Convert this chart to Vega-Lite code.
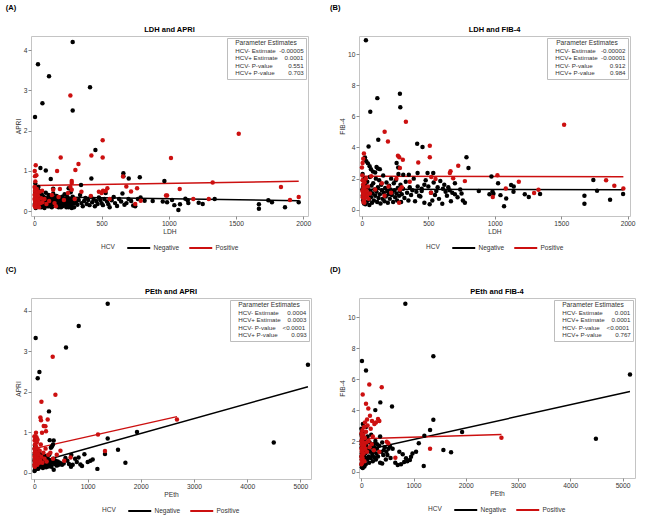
{
"$schema": "https://vega.github.io/schema/vega-lite/v6.json",
"padding": {"left": 5, "top": 3, "right": 4, "bottom": 4},
"datasets": {
"ptsA": [
{"HCV":"Negative","LDH":285,"APRI":4.2},{"HCV":"Negative","LDH":27,"APRI":3.65},{"HCV":"Negative","LDH":109,"APRI":3.35},{"HCV":"Negative","LDH":414,"APRI":3.08},{"HCV":"Negative","LDH":60,"APRI":2.68},{"HCV":"Negative","LDH":285,"APRI":2.5},{"HCV":"Negative","LDH":5,"APRI":2.34},{"HCV":"Negative","LDH":454,"APRI":1.52},{"HCV":"Negative","LDH":45,"APRI":1.07},{"HCV":"Negative","LDH":85,"APRI":1.01},{"HCV":"Negative","LDH":122,"APRI":0.8},{"HCV":"Negative","LDH":424,"APRI":0.81},{"HCV":"Negative","LDH":662,"APRI":0.94},{"HCV":"Negative","LDH":662,"APRI":0.87},{"HCV":"Negative","LDH":702,"APRI":0.81},{"HCV":"Negative","LDH":784,"APRI":0.84},{"HCV":"Negative","LDH":967,"APRI":0.75},{"HCV":"Negative","LDH":347,"APRI":0.65},{"HCV":"Negative","LDH":7,"APRI":0.69},{"HCV":"Negative","LDH":255,"APRI":0.57},{"HCV":"Negative","LDH":30,"APRI":0.6},{"HCV":"Negative","LDH":15,"APRI":0.55},{"HCV":"Negative","LDH":140,"APRI":0.56},
{"HCV":"Negative","LDH":987,"APRI":0.22},{"HCV":"Negative","LDH":1024,"APRI":0.28},{"HCV":"Negative","LDH":1041,"APRI":0.15},{"HCV":"Negative","LDH":1071,"APRI":0.03},{"HCV":"Negative","LDH":1083,"APRI":0.17},{"HCV":"Negative","LDH":1123,"APRI":0.31},{"HCV":"Negative","LDH":1140,"APRI":0.27},{"HCV":"Negative","LDH":1145,"APRI":0.2},{"HCV":"Negative","LDH":1222,"APRI":0.21},{"HCV":"Negative","LDH":1252,"APRI":0.18},{"HCV":"Negative","LDH":1341,"APRI":0.3},{"HCV":"Negative","LDH":1670,"APRI":0.17},{"HCV":"Negative","LDH":1670,"APRI":0.06},{"HCV":"Negative","LDH":1740,"APRI":0.27},{"HCV":"Negative","LDH":1767,"APRI":0.22},{"HCV":"Negative","LDH":1864,"APRI":0.1},{"HCV":"Negative","LDH":1966,"APRI":0.22},{"HCV":"Negative","LDH":880,"APRI":0.25},{"HCV":"Negative","LDH":955,"APRI":0.24},{"HCV":"Negative","LDH":820,"APRI":0.26},
{"HCV":"Negative","LDH":5,"APRI":0.45},{"HCV":"Negative","LDH":8,"APRI":0.3},{"HCV":"Negative","LDH":12,"APRI":0.2},{"HCV":"Negative","LDH":15,"APRI":0.12},{"HCV":"Negative","LDH":20,"APRI":0.38},{"HCV":"Negative","LDH":25,"APRI":0.25},{"HCV":"Negative","LDH":30,"APRI":0.15},{"HCV":"Negative","LDH":35,"APRI":0.5},{"HCV":"Negative","LDH":40,"APRI":0.32},{"HCV":"Negative","LDH":45,"APRI":0.22},{"HCV":"Negative","LDH":50,"APRI":0.1},{"HCV":"Negative","LDH":55,"APRI":0.42},{"HCV":"Negative","LDH":60,"APRI":0.28},{"HCV":"Negative","LDH":65,"APRI":0.18},{"HCV":"Negative","LDH":70,"APRI":0.35},{"HCV":"Negative","LDH":75,"APRI":0.08},{"HCV":"Negative","LDH":80,"APRI":0.25},{"HCV":"Negative","LDH":85,"APRI":0.46},{"HCV":"Negative","LDH":90,"APRI":0.15},{"HCV":"Negative","LDH":95,"APRI":0.3},{"HCV":"Negative","LDH":100,"APRI":0.22},{"HCV":"Negative","LDH":105,"APRI":0.4},{"HCV":"Negative","LDH":110,"APRI":0.12},{"HCV":"Negative","LDH":115,"APRI":0.28},{"HCV":"Negative","LDH":120,"APRI":0.35},{"HCV":"Negative","LDH":125,"APRI":0.18},{"HCV":"Negative","LDH":130,"APRI":0.1},{"HCV":"Negative","LDH":135,"APRI":0.26},{"HCV":"Negative","LDH":140,"APRI":0.44},{"HCV":"Negative","LDH":145,"APRI":0.2},{"HCV":"Negative","LDH":150,"APRI":0.32},{"HCV":"Negative","LDH":155,"APRI":0.14},{"HCV":"Negative","LDH":160,"APRI":0.24},{"HCV":"Negative","LDH":165,"APRI":0.38},{"HCV":"Negative","LDH":170,"APRI":0.18},{"HCV":"Negative","LDH":175,"APRI":0.28},{"HCV":"Negative","LDH":180,"APRI":0.1},{"HCV":"Negative","LDH":185,"APRI":0.22},{"HCV":"Negative","LDH":190,"APRI":0.34},{"HCV":"Negative","LDH":195,"APRI":0.16},{"HCV":"Negative","LDH":200,"APRI":0.27},{"HCV":"Negative","LDH":205,"APRI":0.2},{"HCV":"Negative","LDH":210,"APRI":0.12},{"HCV":"Negative","LDH":215,"APRI":0.3},{"HCV":"Negative","LDH":220,"APRI":0.24},{"HCV":"Negative","LDH":225,"APRI":0.42},{"HCV":"Negative","LDH":230,"APRI":0.18},{"HCV":"Negative","LDH":235,"APRI":0.28},{"HCV":"Negative","LDH":240,"APRI":0.15},{"HCV":"Negative","LDH":245,"APRI":0.35},{"HCV":"Negative","LDH":250,"APRI":0.22},{"HCV":"Negative","LDH":255,"APRI":0.1},{"HCV":"Negative","LDH":260,"APRI":0.3},{"HCV":"Negative","LDH":265,"APRI":0.2},{"HCV":"Negative","LDH":270,"APRI":0.47},{"HCV":"Negative","LDH":275,"APRI":0.14},{"HCV":"Negative","LDH":280,"APRI":0.26},{"HCV":"Negative","LDH":285,"APRI":0.36},{"HCV":"Negative","LDH":290,"APRI":0.2},{"HCV":"Negative","LDH":295,"APRI":0.1},{"HCV":"Negative","LDH":300,"APRI":0.3},{"HCV":"Negative","LDH":310,"APRI":0.22},{"HCV":"Negative","LDH":320,"APRI":0.16},{"HCV":"Negative","LDH":330,"APRI":0.28},{"HCV":"Negative","LDH":340,"APRI":0.4},{"HCV":"Negative","LDH":350,"APRI":0.2},{"HCV":"Negative","LDH":360,"APRI":0.12},{"HCV":"Negative","LDH":370,"APRI":0.25},{"HCV":"Negative","LDH":380,"APRI":0.33},{"HCV":"Negative","LDH":390,"APRI":0.18},{"HCV":"Negative","LDH":400,"APRI":0.28},{"HCV":"Negative","LDH":410,"APRI":0.15},{"HCV":"Negative","LDH":420,"APRI":0.36},{"HCV":"Negative","LDH":430,"APRI":0.22},{"HCV":"Negative","LDH":440,"APRI":0.3},{"HCV":"Negative","LDH":450,"APRI":0.12},{"HCV":"Negative","LDH":460,"APRI":0.25},{"HCV":"Negative","LDH":470,"APRI":0.18},{"HCV":"Negative","LDH":480,"APRI":0.34},{"HCV":"Negative","LDH":490,"APRI":0.28},{"HCV":"Negative","LDH":500,"APRI":0.2},{"HCV":"Negative","LDH":510,"APRI":0.15},{"HCV":"Negative","LDH":520,"APRI":0.3},{"HCV":"Negative","LDH":530,"APRI":0.45},{"HCV":"Negative","LDH":540,"APRI":0.24},{"HCV":"Negative","LDH":550,"APRI":0.17},{"HCV":"Negative","LDH":560,"APRI":0.1},{"HCV":"Negative","LDH":575,"APRI":0.27},{"HCV":"Negative","LDH":590,"APRI":0.35},{"HCV":"Negative","LDH":600,"APRI":0.2},{"HCV":"Negative","LDH":615,"APRI":0.13},{"HCV":"Negative","LDH":630,"APRI":0.3},{"HCV":"Negative","LDH":645,"APRI":0.24},{"HCV":"Negative","LDH":655,"APRI":0.44},{"HCV":"Negative","LDH":670,"APRI":0.16},{"HCV":"Negative","LDH":685,"APRI":0.2},{"HCV":"Negative","LDH":700,"APRI":0.3},{"HCV":"Negative","LDH":720,"APRI":0.25},{"HCV":"Negative","LDH":735,"APRI":0.14},{"HCV":"Negative","LDH":750,"APRI":0.12},{"HCV":"Negative","LDH":770,"APRI":0.3},{"HCV":"Negative","LDH":790,"APRI":0.34},
{"HCV":"Negative","LDH":3,"APRI":0.18},{"HCV":"Negative","LDH":10,"APRI":0.08},{"HCV":"Negative","LDH":18,"APRI":0.28},{"HCV":"Negative","LDH":22,"APRI":0.35},{"HCV":"Negative","LDH":28,"APRI":0.12},{"HCV":"Negative","LDH":33,"APRI":0.2},{"HCV":"Negative","LDH":38,"APRI":0.4},{"HCV":"Negative","LDH":42,"APRI":0.14},{"HCV":"Negative","LDH":48,"APRI":0.3},{"HCV":"Negative","LDH":52,"APRI":0.2},{"HCV":"Negative","LDH":58,"APRI":0.12},{"HCV":"Negative","LDH":62,"APRI":0.36},{"HCV":"Negative","LDH":68,"APRI":0.24},{"HCV":"Negative","LDH":72,"APRI":0.16},{"HCV":"Negative","LDH":78,"APRI":0.32},{"HCV":"Negative","LDH":88,"APRI":0.2},{"HCV":"Negative","LDH":98,"APRI":0.12},{"HCV":"Negative","LDH":108,"APRI":0.25},{"HCV":"Negative","LDH":118,"APRI":0.15},{"HCV":"Negative","LDH":128,"APRI":0.3},{"HCV":"Negative","LDH":138,"APRI":0.16},{"HCV":"Negative","LDH":148,"APRI":0.26},{"HCV":"Negative","LDH":158,"APRI":0.34},{"HCV":"Negative","LDH":168,"APRI":0.12},{"HCV":"Negative","LDH":178,"APRI":0.2},{"HCV":"Negative","LDH":188,"APRI":0.28},{"HCV":"Negative","LDH":198,"APRI":0.1},{"HCV":"Negative","LDH":208,"APRI":0.36},{"HCV":"Negative","LDH":218,"APRI":0.16},{"HCV":"Negative","LDH":228,"APRI":0.24},{"HCV":"Negative","LDH":238,"APRI":0.1},{"HCV":"Negative","LDH":248,"APRI":0.3},{"HCV":"Negative","LDH":258,"APRI":0.18},{"HCV":"Negative","LDH":268,"APRI":0.26},{"HCV":"Negative","LDH":278,"APRI":0.08},{"HCV":"Negative","LDH":288,"APRI":0.3},{"HCV":"Negative","LDH":298,"APRI":0.2},
{"HCV":"Positive","LDH":268,"APRI":2.87},{"HCV":"Positive","LDH":508,"APRI":1.76},{"HCV":"Positive","LDH":424,"APRI":1.38},{"HCV":"Positive","LDH":508,"APRI":1.33},{"HCV":"Positive","LDH":196,"APRI":1.33},{"HCV":"Positive","LDH":328,"APRI":1.17},{"HCV":"Positive","LDH":305,"APRI":1.02},{"HCV":"Positive","LDH":169,"APRI":1.0},{"HCV":"Positive","LDH":10,"APRI":1.14},{"HCV":"Positive","LDH":3,"APRI":1.0},{"HCV":"Positive","LDH":15,"APRI":0.89},{"HCV":"Positive","LDH":5,"APRI":0.87},{"HCV":"Positive","LDH":660,"APRI":0.86},{"HCV":"Positive","LDH":278,"APRI":0.75},{"HCV":"Positive","LDH":278,"APRI":0.7},{"HCV":"Positive","LDH":7,"APRI":0.74},{"HCV":"Positive","LDH":543,"APRI":0.57},{"HCV":"Positive","LDH":511,"APRI":0.51},{"HCV":"Positive","LDH":764,"APRI":0.57},{"HCV":"Positive","LDH":719,"APRI":0.49},{"HCV":"Positive","LDH":684,"APRI":0.61},{"HCV":"Positive","LDH":979,"APRI":0.39},{"HCV":"Positive","LDH":791,"APRI":0.26},{"HCV":"Positive","LDH":268,"APRI":0.6},{"HCV":"Positive","LDH":278,"APRI":0.53},{"HCV":"Positive","LDH":140,"APRI":0.53},{"HCV":"Positive","LDH":190,"APRI":0.55},{"HCV":"Positive","LDH":58,"APRI":0.51},{"HCV":"Positive","LDH":1016,"APRI":1.32},{"HCV":"Positive","LDH":1520,"APRI":1.92},{"HCV":"Positive","LDH":1081,"APRI":0.55},{"HCV":"Positive","LDH":1326,"APRI":0.71},{"HCV":"Positive","LDH":1834,"APRI":0.6},{"HCV":"Positive","LDH":1901,"APRI":0.28},{"HCV":"Positive","LDH":1966,"APRI":0.35},{"HCV":"Positive","LDH":987,"APRI":0.39},{"HCV":"Positive","LDH":1182,"APRI":0.3},{"HCV":"Positive","LDH":1297,"APRI":0.3},
{"HCV":"Positive","LDH":2,"APRI":0.6},{"HCV":"Positive","LDH":4,"APRI":0.5},{"HCV":"Positive","LDH":6,"APRI":0.42},{"HCV":"Positive","LDH":8,"APRI":0.35},{"HCV":"Positive","LDH":10,"APRI":0.28},{"HCV":"Positive","LDH":12,"APRI":0.22},{"HCV":"Positive","LDH":14,"APRI":0.18},{"HCV":"Positive","LDH":16,"APRI":0.12},{"HCV":"Positive","LDH":18,"APRI":0.55},{"HCV":"Positive","LDH":20,"APRI":0.45},{"HCV":"Positive","LDH":22,"APRI":0.3},{"HCV":"Positive","LDH":24,"APRI":0.2},{"HCV":"Positive","LDH":26,"APRI":0.15},{"HCV":"Positive","LDH":28,"APRI":0.38},{"HCV":"Positive","LDH":30,"APRI":0.25},{"HCV":"Positive","LDH":35,"APRI":0.1},{"HCV":"Positive","LDH":40,"APRI":0.48},{"HCV":"Positive","LDH":45,"APRI":0.2},{"HCV":"Positive","LDH":50,"APRI":0.32},{"HCV":"Positive","LDH":3,"APRI":0.15},{"HCV":"Positive","LDH":5,"APRI":0.25},{"HCV":"Positive","LDH":7,"APRI":0.2},{"HCV":"Positive","LDH":9,"APRI":0.1},{"HCV":"Positive","LDH":11,"APRI":0.38},{"HCV":"Positive","LDH":13,"APRI":0.32},{"HCV":"Positive","LDH":60,"APRI":0.22},{"HCV":"Positive","LDH":75,"APRI":0.3},{"HCV":"Positive","LDH":90,"APRI":0.18},{"HCV":"Positive","LDH":110,"APRI":0.25},{"HCV":"Positive","LDH":130,"APRI":0.4},{"HCV":"Positive","LDH":150,"APRI":0.2},{"HCV":"Positive","LDH":180,"APRI":0.35},{"HCV":"Positive","LDH":220,"APRI":0.28},{"HCV":"Positive","LDH":250,"APRI":0.45},{"HCV":"Positive","LDH":300,"APRI":0.3},{"HCV":"Positive","LDH":350,"APRI":0.48},{"HCV":"Positive","LDH":420,"APRI":0.38},{"HCV":"Positive","LDH":480,"APRI":0.48},{"HCV":"Positive","LDH":500,"APRI":0.45},{"HCV":"Positive","LDH":530,"APRI":0.5},{"HCV":"Positive","LDH":560,"APRI":0.3},{"HCV":"Positive","LDH":750,"APRI":0.18},{"HCV":"Positive","LDH":160,"APRI":0.12},{"HCV":"Positive","LDH":1,"APRI":0.3},{"HCV":"Positive","LDH":2,"APRI":0.4},{"HCV":"Positive","LDH":4,"APRI":0.12},{"HCV":"Positive","LDH":6,"APRI":0.55}
],
"linesA": [
{"HCV":"Negative","LDH":2,"APRI":0.36},{"HCV":"Negative","LDH":1966,"APRI":0.26},
{"HCV":"Positive","LDH":1,"APRI":0.64},{"HCV":"Positive","LDH":1966,"APRI":0.74}
],
"parA": [
{"Parameter":"HCV- Estimate\u00a0\u00a0-0.00005"},{"Parameter":"HCV+ Estimate\u00a0\u00a0\u00a0\u00a00.0001"},{"Parameter":"HCV- P-value\u00a0\u00a0\u00a0\u00a0\u00a0\u00a0\u00a0\u00a0\u00a00.551"},{"Parameter":"HCV+ P-value\u00a0\u00a0\u00a0\u00a0\u00a0\u00a0\u00a0\u00a00.703"}
],
"ptsB": [
{"HCV":"Negative","LDH":30,"FIB4":10.88},{"HCV":"Negative","LDH":286,"FIB4":7.45},{"HCV":"Negative","LDH":116,"FIB4":7.17},{"HCV":"Negative","LDH":289,"FIB4":6.58},{"HCV":"Negative","LDH":63,"FIB4":6.3},{"HCV":"Negative","LDH":123,"FIB4":4.5},{"HCV":"Negative","LDH":50,"FIB4":4.07},{"HCV":"Negative","LDH":416,"FIB4":4.24},{"HCV":"Negative","LDH":456,"FIB4":4.03},{"HCV":"Negative","LDH":261,"FIB4":3.0},{"HCV":"Negative","LDH":273,"FIB4":2.72},{"HCV":"Negative","LDH":23,"FIB4":3.36},{"HCV":"Negative","LDH":33,"FIB4":3.12},{"HCV":"Negative","LDH":45,"FIB4":2.98},{"HCV":"Negative","LDH":58,"FIB4":2.8},{"HCV":"Negative","LDH":68,"FIB4":2.6},{"HCV":"Negative","LDH":83,"FIB4":2.45},{"HCV":"Negative","LDH":100,"FIB4":2.4},{"HCV":"Negative","LDH":135,"FIB4":2.61},{"HCV":"Negative","LDH":787,"FIB4":3.38},{"HCV":"Negative","LDH":802,"FIB4":2.68},{"HCV":"Negative","LDH":494,"FIB4":2.36},{"HCV":"Negative","LDH":537,"FIB4":2.36},{"HCV":"Negative","LDH":419,"FIB4":2.36},{"HCV":"Negative","LDH":353,"FIB4":2.25},{"HCV":"Negative","LDH":311,"FIB4":2.25},{"HCV":"Negative","LDH":975,"FIB4":2.14},{"HCV":"Negative","LDH":18,"FIB4":3.3},{"HCV":"Negative","LDH":110,"FIB4":2.75},{"HCV":"Negative","LDH":120,"FIB4":2.65},
{"HCV":"Negative","LDH":1025,"FIB4":1.71},{"HCV":"Negative","LDH":983,"FIB4":1.18},{"HCV":"Negative","LDH":990,"FIB4":1.03},{"HCV":"Negative","LDH":1043,"FIB4":0.94},{"HCV":"Negative","LDH":1086,"FIB4":0.73},{"HCV":"Negative","LDH":1070,"FIB4":0.22},{"HCV":"Negative","LDH":1123,"FIB4":1.59},{"HCV":"Negative","LDH":1143,"FIB4":1.5},{"HCV":"Negative","LDH":1141,"FIB4":1.16},{"HCV":"Negative","LDH":1226,"FIB4":0.99},{"HCV":"Negative","LDH":1256,"FIB4":0.82},{"HCV":"Negative","LDH":1341,"FIB4":1.01},{"HCV":"Negative","LDH":1675,"FIB4":0.9},{"HCV":"Negative","LDH":1675,"FIB4":0.39},{"HCV":"Negative","LDH":1742,"FIB4":1.91},{"HCV":"Negative","LDH":1770,"FIB4":1.22},{"HCV":"Negative","LDH":1868,"FIB4":0.64},{"HCV":"Negative","LDH":1966,"FIB4":1.01},{"HCV":"Negative","LDH":880,"FIB4":1.2},{"HCV":"Negative","LDH":775,"FIB4":0.45},{"HCV":"Negative","LDH":960,"FIB4":1.0},
{"HCV":"Negative","LDH":590,"FIB4":1.85},{"HCV":"Negative","LDH":620,"FIB4":1.6},{"HCV":"Negative","LDH":700,"FIB4":1.7},{"HCV":"Negative","LDH":650,"FIB4":1.45},{"HCV":"Negative","LDH":560,"FIB4":1.2},{"HCV":"Negative","LDH":605,"FIB4":0.38},{"HCV":"Negative","LDH":510,"FIB4":0.35},{"HCV":"Negative","LDH":470,"FIB4":0.45},{"HCV":"Negative","LDH":530,"FIB4":0.6},{"HCV":"Negative","LDH":720,"FIB4":0.8},{"HCV":"Negative","LDH":760,"FIB4":0.6},{"HCV":"Negative","LDH":680,"FIB4":1.1},{"HCV":"Negative","LDH":740,"FIB4":1.3},{"HCV":"Negative","LDH":640,"FIB4":0.9},{"HCV":"Negative","LDH":580,"FIB4":0.7},{"HCV":"Negative","LDH":550,"FIB4":0.95},{"HCV":"Negative","LDH":610,"FIB4":1.35},{"HCV":"Negative","LDH":660,"FIB4":1.25},{"HCV":"Negative","LDH":700,"FIB4":1.0},{"HCV":"Negative","LDH":500,"FIB4":1.5},{"HCV":"Negative","LDH":480,"FIB4":1.9},{"HCV":"Negative","LDH":450,"FIB4":1.2},{"HCV":"Negative","LDH":430,"FIB4":0.9},{"HCV":"Negative","LDH":470,"FIB4":1.6},{"HCV":"Negative","LDH":520,"FIB4":1.1},{"HCV":"Negative","LDH":540,"FIB4":1.75},{"HCV":"Negative","LDH":570,"FIB4":1.45},{"HCV":"Negative","LDH":630,"FIB4":1.15},{"HCV":"Negative","LDH":670,"FIB4":0.55},{"HCV":"Negative","LDH":750,"FIB4":1.05},
{"HCV":"Negative","LDH":5,"FIB4":2.3},{"HCV":"Negative","LDH":8,"FIB4":1.9},{"HCV":"Negative","LDH":10,"FIB4":1.5},{"HCV":"Negative","LDH":12,"FIB4":1.1},{"HCV":"Negative","LDH":14,"FIB4":0.7},{"HCV":"Negative","LDH":16,"FIB4":0.4},{"HCV":"Negative","LDH":20,"FIB4":2.0},{"HCV":"Negative","LDH":24,"FIB4":1.6},{"HCV":"Negative","LDH":28,"FIB4":1.25},{"HCV":"Negative","LDH":32,"FIB4":0.9},{"HCV":"Negative","LDH":36,"FIB4":0.5},{"HCV":"Negative","LDH":40,"FIB4":1.8},{"HCV":"Negative","LDH":44,"FIB4":1.4},{"HCV":"Negative","LDH":48,"FIB4":1.0},{"HCV":"Negative","LDH":52,"FIB4":0.65},{"HCV":"Negative","LDH":56,"FIB4":0.3},{"HCV":"Negative","LDH":60,"FIB4":2.1},{"HCV":"Negative","LDH":64,"FIB4":1.2},{"HCV":"Negative","LDH":68,"FIB4":0.8},{"HCV":"Negative","LDH":72,"FIB4":1.55},{"HCV":"Negative","LDH":76,"FIB4":0.45},{"HCV":"Negative","LDH":80,"FIB4":1.05},{"HCV":"Negative","LDH":85,"FIB4":1.7},{"HCV":"Negative","LDH":90,"FIB4":0.6},{"HCV":"Negative","LDH":95,"FIB4":1.3},{"HCV":"Negative","LDH":100,"FIB4":0.9},{"HCV":"Negative","LDH":105,"FIB4":2.0},{"HCV":"Negative","LDH":110,"FIB4":1.15},{"HCV":"Negative","LDH":115,"FIB4":0.5},{"HCV":"Negative","LDH":120,"FIB4":1.45},{"HCV":"Negative","LDH":125,"FIB4":0.75},{"HCV":"Negative","LDH":130,"FIB4":1.9},{"HCV":"Negative","LDH":135,"FIB4":1.0},{"HCV":"Negative","LDH":140,"FIB4":0.4},{"HCV":"Negative","LDH":145,"FIB4":1.6},{"HCV":"Negative","LDH":150,"FIB4":1.25},{"HCV":"Negative","LDH":155,"FIB4":0.7},{"HCV":"Negative","LDH":160,"FIB4":2.2},{"HCV":"Negative","LDH":165,"FIB4":1.1},{"HCV":"Negative","LDH":170,"FIB4":0.55},{"HCV":"Negative","LDH":175,"FIB4":1.4},{"HCV":"Negative","LDH":180,"FIB4":0.85},{"HCV":"Negative","LDH":185,"FIB4":1.75},{"HCV":"Negative","LDH":190,"FIB4":1.2},{"HCV":"Negative","LDH":195,"FIB4":0.45},{"HCV":"Negative","LDH":200,"FIB4":1.0},{"HCV":"Negative","LDH":205,"FIB4":1.55},{"HCV":"Negative","LDH":210,"FIB4":0.7},{"HCV":"Negative","LDH":215,"FIB4":1.3},{"HCV":"Negative","LDH":220,"FIB4":2.0},{"HCV":"Negative","LDH":225,"FIB4":0.95},{"HCV":"Negative","LDH":230,"FIB4":1.15},{"HCV":"Negative","LDH":235,"FIB4":0.5},{"HCV":"Negative","LDH":240,"FIB4":1.7},{"HCV":"Negative","LDH":245,"FIB4":1.25},{"HCV":"Negative","LDH":250,"FIB4":0.8},{"HCV":"Negative","LDH":255,"FIB4":1.9},{"HCV":"Negative","LDH":260,"FIB4":1.05},{"HCV":"Negative","LDH":265,"FIB4":0.6},{"HCV":"Negative","LDH":270,"FIB4":1.4},{"HCV":"Negative","LDH":275,"FIB4":2.3},{"HCV":"Negative","LDH":280,"FIB4":0.9},{"HCV":"Negative","LDH":285,"FIB4":1.2},{"HCV":"Negative","LDH":290,"FIB4":1.6},{"HCV":"Negative","LDH":295,"FIB4":0.5},{"HCV":"Negative","LDH":300,"FIB4":1.0},{"HCV":"Negative","LDH":310,"FIB4":1.35},{"HCV":"Negative","LDH":320,"FIB4":0.75},{"HCV":"Negative","LDH":330,"FIB4":1.8},{"HCV":"Negative","LDH":340,"FIB4":1.1},{"HCV":"Negative","LDH":350,"FIB4":0.6},{"HCV":"Negative","LDH":360,"FIB4":1.45},{"HCV":"Negative","LDH":370,"FIB4":0.95},{"HCV":"Negative","LDH":380,"FIB4":1.25},{"HCV":"Negative","LDH":390,"FIB4":2.0},{"HCV":"Negative","LDH":400,"FIB4":0.55},{"HCV":"Negative","LDH":410,"FIB4":1.15},{"HCV":"Negative","LDH":420,"FIB4":1.5},{"HCV":"Negative","LDH":440,"FIB4":0.85},{"HCV":"Negative","LDH":450,"FIB4":1.35},{"HCV":"Negative","LDH":3,"FIB4":1.3},{"HCV":"Negative","LDH":6,"FIB4":0.9},{"HCV":"Negative","LDH":9,"FIB4":0.6},{"HCV":"Negative","LDH":18,"FIB4":1.2},{"HCV":"Negative","LDH":26,"FIB4":0.35},
{"HCV":"Positive","LDH":331,"FIB4":5.65},{"HCV":"Positive","LDH":171,"FIB4":5.01},{"HCV":"Positive","LDH":196,"FIB4":4.39},{"HCV":"Positive","LDH":511,"FIB4":4.11},{"HCV":"Positive","LDH":511,"FIB4":3.38},{"HCV":"Positive","LDH":424,"FIB4":3.04},{"HCV":"Positive","LDH":271,"FIB4":3.47},{"HCV":"Positive","LDH":281,"FIB4":3.38},{"HCV":"Positive","LDH":308,"FIB4":3.21},{"HCV":"Positive","LDH":286,"FIB4":2.68},{"HCV":"Positive","LDH":15,"FIB4":3.62},{"HCV":"Positive","LDH":10,"FIB4":3.28},{"HCV":"Positive","LDH":5,"FIB4":3.0},{"HCV":"Positive","LDH":0,"FIB4":2.72},{"HCV":"Positive","LDH":725,"FIB4":2.83},{"HCV":"Positive","LDH":667,"FIB4":2.47},{"HCV":"Positive","LDH":662,"FIB4":2.36},{"HCV":"Positive","LDH":775,"FIB4":1.84},{"HCV":"Positive","LDH":687,"FIB4":2.02},{"HCV":"Positive","LDH":554,"FIB4":1.97},{"HCV":"Positive","LDH":522,"FIB4":2.1},{"HCV":"Positive","LDH":1020,"FIB4":2.21},{"HCV":"Positive","LDH":985,"FIB4":0.82},{"HCV":"Positive","LDH":1083,"FIB4":1.37},{"HCV":"Positive","LDH":1181,"FIB4":1.8},{"HCV":"Positive","LDH":1296,"FIB4":1.07},{"HCV":"Positive","LDH":1329,"FIB4":1.29},{"HCV":"Positive","LDH":1522,"FIB4":5.46},{"HCV":"Positive","LDH":1838,"FIB4":1.89},{"HCV":"Positive","LDH":1900,"FIB4":1.54},{"HCV":"Positive","LDH":1968,"FIB4":1.37},
{"HCV":"Positive","LDH":3,"FIB4":2.2},{"HCV":"Positive","LDH":5,"FIB4":1.9},{"HCV":"Positive","LDH":8,"FIB4":1.6},{"HCV":"Positive","LDH":10,"FIB4":1.3},{"HCV":"Positive","LDH":12,"FIB4":1.05},{"HCV":"Positive","LDH":14,"FIB4":0.9},{"HCV":"Positive","LDH":16,"FIB4":0.6},{"HCV":"Positive","LDH":18,"FIB4":0.45},{"HCV":"Positive","LDH":20,"FIB4":1.75},{"HCV":"Positive","LDH":22,"FIB4":1.45},{"HCV":"Positive","LDH":25,"FIB4":1.1},{"HCV":"Positive","LDH":28,"FIB4":0.8},{"HCV":"Positive","LDH":30,"FIB4":2.0},{"HCV":"Positive","LDH":35,"FIB4":1.2},{"HCV":"Positive","LDH":40,"FIB4":0.95},{"HCV":"Positive","LDH":45,"FIB4":1.5},{"HCV":"Positive","LDH":50,"FIB4":0.7},{"HCV":"Positive","LDH":60,"FIB4":1.05},{"HCV":"Positive","LDH":70,"FIB4":2.15},{"HCV":"Positive","LDH":4,"FIB4":1.2},{"HCV":"Positive","LDH":6,"FIB4":0.8},{"HCV":"Positive","LDH":9,"FIB4":1.0},{"HCV":"Positive","LDH":11,"FIB4":0.5},{"HCV":"Positive","LDH":13,"FIB4":1.4},{"HCV":"Positive","LDH":150,"FIB4":1.7},{"HCV":"Positive","LDH":200,"FIB4":1.5},{"HCV":"Positive","LDH":280,"FIB4":0.45},{"HCV":"Positive","LDH":285,"FIB4":1.3},{"HCV":"Positive","LDH":220,"FIB4":1.1},{"HCV":"Positive","LDH":100,"FIB4":1.3},{"HCV":"Positive","LDH":260,"FIB4":2.0},{"HCV":"Positive","LDH":520,"FIB4":1.1},{"HCV":"Positive","LDH":300,"FIB4":1.45},{"HCV":"Positive","LDH":360,"FIB4":1.8},{"HCV":"Positive","LDH":170,"FIB4":0.9}
],
"linesB": [
{"HCV":"Negative","LDH":2,"FIB4":1.31},{"HCV":"Negative","LDH":1966,"FIB4":1.29},
{"HCV":"Positive","LDH":0,"FIB4":2.15},{"HCV":"Positive","LDH":1968,"FIB4":2.12}
],
"parB": [
{"Parameter":"HCV- Estimate\u00a0\u00a0\u00a0-0.00002"},{"Parameter":"HCV+ Estimate\u00a0\u00a0-0.00001"},{"Parameter":"HCV- P-value\u00a0\u00a0\u00a0\u00a0\u00a0\u00a0\u00a0\u00a0\u00a0\u00a00.912"},{"Parameter":"HCV+ P-value\u00a0\u00a0\u00a0\u00a0\u00a0\u00a0\u00a0\u00a0\u00a00.984"}
],
"ptsC": [
{"HCV":"Negative","PEth":1378,"APRI":4.18},{"HCV":"Negative","PEth":833,"APRI":3.63},{"HCV":"Negative","PEth":24,"APRI":3.33},{"HCV":"Negative","PEth":594,"APRI":3.1},{"HCV":"Negative","PEth":94,"APRI":2.49},{"HCV":"Negative","PEth":62,"APRI":2.34},{"HCV":"Negative","PEth":274,"APRI":1.52},{"HCV":"Negative","PEth":288,"APRI":0.81},{"HCV":"Negative","PEth":363,"APRI":0.8},{"HCV":"Negative","PEth":1378,"APRI":0.85},{"HCV":"Negative","PEth":1327,"APRI":0.47},{"HCV":"Negative","PEth":1572,"APRI":0.57},{"HCV":"Negative","PEth":1711,"APRI":0.25},{"HCV":"Negative","PEth":1929,"APRI":1.01},{"HCV":"Negative","PEth":1184,"APRI":0.1},{"HCV":"Negative","PEth":940,"APRI":0.46},{"HCV":"Negative","PEth":1053,"APRI":0.3},{"HCV":"Negative","PEth":1002,"APRI":0.27},{"HCV":"Negative","PEth":1096,"APRI":0.33},{"HCV":"Negative","PEth":865,"APRI":0.21},{"HCV":"Negative","PEth":895,"APRI":0.17},{"HCV":"Negative","PEth":797,"APRI":0.27},{"HCV":"Negative","PEth":765,"APRI":0.35},{"HCV":"Negative","PEth":830,"APRI":0.38},{"HCV":"Negative","PEth":688,"APRI":0.15},{"HCV":"Negative","PEth":583,"APRI":0.37},{"HCV":"Negative","PEth":551,"APRI":0.23},{"HCV":"Negative","PEth":694,"APRI":0.44},{"HCV":"Negative","PEth":395,"APRI":0.24},{"HCV":"Negative","PEth":457,"APRI":0.2},{"HCV":"Negative","PEth":363,"APRI":0.08},{"HCV":"Negative","PEth":5143,"APRI":2.67},{"HCV":"Negative","PEth":4500,"APRI":0.75},
{"HCV":"Negative","PEth":2,"APRI":0.05},{"HCV":"Negative","PEth":4,"APRI":0.2},{"HCV":"Negative","PEth":6,"APRI":0.35},{"HCV":"Negative","PEth":8,"APRI":0.5},{"HCV":"Negative","PEth":10,"APRI":0.68},{"HCV":"Negative","PEth":12,"APRI":0.12},{"HCV":"Negative","PEth":15,"APRI":0.28},{"HCV":"Negative","PEth":18,"APRI":0.42},{"HCV":"Negative","PEth":20,"APRI":0.6},{"HCV":"Negative","PEth":25,"APRI":0.18},{"HCV":"Negative","PEth":30,"APRI":0.3},{"HCV":"Negative","PEth":35,"APRI":0.45},{"HCV":"Negative","PEth":40,"APRI":0.1},{"HCV":"Negative","PEth":45,"APRI":0.25},{"HCV":"Negative","PEth":50,"APRI":0.38},{"HCV":"Negative","PEth":55,"APRI":0.55},{"HCV":"Negative","PEth":60,"APRI":0.15},{"HCV":"Negative","PEth":65,"APRI":0.3},{"HCV":"Negative","PEth":70,"APRI":0.22},{"HCV":"Negative","PEth":75,"APRI":0.42},{"HCV":"Negative","PEth":80,"APRI":0.12},{"HCV":"Negative","PEth":85,"APRI":0.33},{"HCV":"Negative","PEth":90,"APRI":0.5},{"HCV":"Negative","PEth":95,"APRI":0.2},{"HCV":"Negative","PEth":100,"APRI":0.28},{"HCV":"Negative","PEth":110,"APRI":0.4},{"HCV":"Negative","PEth":120,"APRI":0.15},{"HCV":"Negative","PEth":130,"APRI":0.32},{"HCV":"Negative","PEth":140,"APRI":0.22},{"HCV":"Negative","PEth":150,"APRI":0.45},{"HCV":"Negative","PEth":160,"APRI":0.12},{"HCV":"Negative","PEth":170,"APRI":0.3},{"HCV":"Negative","PEth":180,"APRI":0.38},{"HCV":"Negative","PEth":190,"APRI":0.18},{"HCV":"Negative","PEth":200,"APRI":0.26},{"HCV":"Negative","PEth":210,"APRI":0.42},{"HCV":"Negative","PEth":220,"APRI":0.14},{"HCV":"Negative","PEth":230,"APRI":0.32},{"HCV":"Negative","PEth":240,"APRI":0.22},{"HCV":"Negative","PEth":250,"APRI":0.36},{"HCV":"Negative","PEth":260,"APRI":0.16},{"HCV":"Negative","PEth":270,"APRI":0.28},{"HCV":"Negative","PEth":280,"APRI":0.45},{"HCV":"Negative","PEth":290,"APRI":0.2},{"HCV":"Negative","PEth":300,"APRI":0.3},{"HCV":"Negative","PEth":310,"APRI":0.62},{"HCV":"Negative","PEth":320,"APRI":0.15},{"HCV":"Negative","PEth":330,"APRI":0.65},{"HCV":"Negative","PEth":340,"APRI":0.25},{"HCV":"Negative","PEth":350,"APRI":0.7},{"HCV":"Negative","PEth":360,"APRI":0.35},{"HCV":"Negative","PEth":380,"APRI":0.22},{"HCV":"Negative","PEth":400,"APRI":0.3},{"HCV":"Negative","PEth":420,"APRI":0.18},{"HCV":"Negative","PEth":440,"APRI":0.28},{"HCV":"Negative","PEth":480,"APRI":0.25},{"HCV":"Negative","PEth":520,"APRI":0.2},{"HCV":"Negative","PEth":620,"APRI":0.3},{"HCV":"Negative","PEth":650,"APRI":0.22},{"HCV":"Negative","PEth":720,"APRI":0.2},{"HCV":"Negative","PEth":1,"APRI":0.3},{"HCV":"Negative","PEth":3,"APRI":0.45},{"HCV":"Negative","PEth":5,"APRI":0.6},{"HCV":"Negative","PEth":7,"APRI":0.15},{"HCV":"Negative","PEth":9,"APRI":0.25},{"HCV":"Negative","PEth":14,"APRI":0.08},{"HCV":"Negative","PEth":22,"APRI":0.5},{"HCV":"Negative","PEth":28,"APRI":0.22},{"HCV":"Negative","PEth":38,"APRI":0.35},{"HCV":"Negative","PEth":48,"APRI":0.18},{"HCV":"Negative","PEth":58,"APRI":0.45},{"HCV":"Negative","PEth":68,"APRI":0.1},{"HCV":"Negative","PEth":78,"APRI":0.25},
{"HCV":"Positive","PEth":344,"APRI":2.87},{"HCV":"Positive","PEth":395,"APRI":1.93},{"HCV":"Positive","PEth":132,"APRI":1.76},{"HCV":"Positive","PEth":113,"APRI":1.37},{"HCV":"Positive","PEth":124,"APRI":1.3},{"HCV":"Positive","PEth":250,"APRI":1.32},{"HCV":"Positive","PEth":175,"APRI":1.16},{"HCV":"Positive","PEth":207,"APRI":1.15},{"HCV":"Positive","PEth":30,"APRI":0.99},{"HCV":"Positive","PEth":143,"APRI":0.99},{"HCV":"Positive","PEth":218,"APRI":1.03},{"HCV":"Positive","PEth":0,"APRI":0.9},{"HCV":"Positive","PEth":1196,"APRI":0.95},{"HCV":"Positive","PEth":1327,"APRI":0.54},{"HCV":"Positive","PEth":2680,"APRI":1.32},{"HCV":"Positive","PEth":490,"APRI":0.55},{"HCV":"Positive","PEth":560,"APRI":0.3},{"HCV":"Positive","PEth":680,"APRI":0.38},
{"HCV":"Positive","PEth":1,"APRI":0.2},{"HCV":"Positive","PEth":2,"APRI":0.4},{"HCV":"Positive","PEth":3,"APRI":0.6},{"HCV":"Positive","PEth":4,"APRI":0.8},{"HCV":"Positive","PEth":5,"APRI":0.3},{"HCV":"Positive","PEth":6,"APRI":0.5},{"HCV":"Positive","PEth":8,"APRI":0.15},{"HCV":"Positive","PEth":10,"APRI":0.7},{"HCV":"Positive","PEth":12,"APRI":0.35},{"HCV":"Positive","PEth":14,"APRI":0.55},{"HCV":"Positive","PEth":16,"APRI":0.25},{"HCV":"Positive","PEth":18,"APRI":0.45},{"HCV":"Positive","PEth":20,"APRI":0.85},{"HCV":"Positive","PEth":25,"APRI":0.2},{"HCV":"Positive","PEth":30,"APRI":0.65},{"HCV":"Positive","PEth":35,"APRI":0.4},{"HCV":"Positive","PEth":40,"APRI":0.3},{"HCV":"Positive","PEth":45,"APRI":0.75},{"HCV":"Positive","PEth":50,"APRI":0.5},{"HCV":"Positive","PEth":55,"APRI":0.2},{"HCV":"Positive","PEth":60,"APRI":0.6},{"HCV":"Positive","PEth":70,"APRI":0.35},{"HCV":"Positive","PEth":80,"APRI":0.45},{"HCV":"Positive","PEth":90,"APRI":0.25},{"HCV":"Positive","PEth":100,"APRI":0.55},{"HCV":"Positive","PEth":110,"APRI":0.3},{"HCV":"Positive","PEth":120,"APRI":0.7},{"HCV":"Positive","PEth":130,"APRI":0.4},{"HCV":"Positive","PEth":150,"APRI":0.25},{"HCV":"Positive","PEth":170,"APRI":0.5},{"HCV":"Positive","PEth":190,"APRI":0.35},{"HCV":"Positive","PEth":210,"APRI":0.6},{"HCV":"Positive","PEth":230,"APRI":0.28},{"HCV":"Positive","PEth":260,"APRI":0.45},{"HCV":"Positive","PEth":300,"APRI":0.5},{"HCV":"Positive","PEth":350,"APRI":0.35},{"HCV":"Positive","PEth":420,"APRI":0.45},{"HCV":"Positive","PEth":15,"APRI":0.9},{"HCV":"Positive","PEth":40,"APRI":0.88},{"HCV":"Positive","PEth":60,"APRI":0.82}
],
"linesC": [
{"HCV":"Negative","PEth":0,"APRI":0.24},{"HCV":"Negative","PEth":5143,"APRI":2.13},
{"HCV":"Positive","PEth":0,"APRI":0.6},{"HCV":"Positive","PEth":2680,"APRI":1.39}
],
"parC": [
{"Parameter":"HCV- Estimate\u00a0\u00a0\u00a0\u00a0\u00a00.0004"},{"Parameter":"HCV+ Estimate\u00a0\u00a0\u00a0\u00a00.0003"},{"Parameter":"HCV- P-value\u00a0\u00a0\u00a0\u00a0<0.0001"},{"Parameter":"HCV+ P-value\u00a0\u00a0\u00a0\u00a0\u00a0\u00a0\u00a0\u00a00.093"}
],
"ptsD": [
{"HCV":"Negative","PEth":843,"FIB4":10.88},{"HCV":"Negative","PEth":1379,"FIB4":7.48},{"HCV":"Negative","PEth":13,"FIB4":7.18},{"HCV":"Negative","PEth":90,"FIB4":6.56},{"HCV":"Negative","PEth":364,"FIB4":4.5},{"HCV":"Negative","PEth":588,"FIB4":4.24},{"HCV":"Negative","PEth":268,"FIB4":4.0},{"HCV":"Negative","PEth":1379,"FIB4":3.37},{"HCV":"Negative","PEth":1316,"FIB4":2.71},{"HCV":"Negative","PEth":1929,"FIB4":2.58},{"HCV":"Negative","PEth":1207,"FIB4":2.34},{"HCV":"Negative","PEth":1571,"FIB4":1.42},{"HCV":"Negative","PEth":1718,"FIB4":1.27},{"HCV":"Negative","PEth":1195,"FIB4":0.39},{"HCV":"Negative","PEth":728,"FIB4":1.31},{"HCV":"Negative","PEth":793,"FIB4":1.14},{"HCV":"Negative","PEth":856,"FIB4":0.88},{"HCV":"Negative","PEth":5142,"FIB4":6.3},{"HCV":"Negative","PEth":4490,"FIB4":2.15},{"HCV":"Negative","PEth":1100,"FIB4":1.85},{"HCV":"Negative","PEth":1048,"FIB4":1.31},{"HCV":"Negative","PEth":952,"FIB4":0.99},{"HCV":"Negative","PEth":930,"FIB4":0.78},{"HCV":"Negative","PEth":697,"FIB4":0.45},{"HCV":"Negative","PEth":880,"FIB4":0.7},{"HCV":"Negative","PEth":980,"FIB4":1.2},{"HCV":"Negative","PEth":820,"FIB4":0.65},{"HCV":"Negative","PEth":760,"FIB4":0.5},{"HCV":"Negative","PEth":650,"FIB4":0.6},{"HCV":"Negative","PEth":600,"FIB4":1.5},{"HCV":"Negative","PEth":550,"FIB4":1.65},{"HCV":"Negative","PEth":500,"FIB4":1.1},{"HCV":"Negative","PEth":470,"FIB4":0.8},{"HCV":"Negative","PEth":430,"FIB4":1.4},{"HCV":"Negative","PEth":400,"FIB4":0.55},{"HCV":"Negative","PEth":360,"FIB4":2.3},{"HCV":"Negative","PEth":300,"FIB4":1.8},
{"HCV":"Negative","PEth":2,"FIB4":2.8},{"HCV":"Negative","PEth":4,"FIB4":2.4},{"HCV":"Negative","PEth":6,"FIB4":2.0},{"HCV":"Negative","PEth":8,"FIB4":1.6},{"HCV":"Negative","PEth":10,"FIB4":1.2},{"HCV":"Negative","PEth":12,"FIB4":0.8},{"HCV":"Negative","PEth":14,"FIB4":0.4},{"HCV":"Negative","PEth":16,"FIB4":2.6},{"HCV":"Negative","PEth":18,"FIB4":2.2},{"HCV":"Negative","PEth":20,"FIB4":1.8},{"HCV":"Negative","PEth":22,"FIB4":1.4},{"HCV":"Negative","PEth":24,"FIB4":1.0},{"HCV":"Negative","PEth":26,"FIB4":0.6},{"HCV":"Negative","PEth":28,"FIB4":0.25},{"HCV":"Negative","PEth":30,"FIB4":3.1},{"HCV":"Negative","PEth":35,"FIB4":2.5},{"HCV":"Negative","PEth":40,"FIB4":1.9},{"HCV":"Negative","PEth":45,"FIB4":1.5},{"HCV":"Negative","PEth":50,"FIB4":1.1},{"HCV":"Negative","PEth":55,"FIB4":0.7},{"HCV":"Negative","PEth":60,"FIB4":0.35},{"HCV":"Negative","PEth":65,"FIB4":2.1},{"HCV":"Negative","PEth":70,"FIB4":1.6},{"HCV":"Negative","PEth":75,"FIB4":1.2},{"HCV":"Negative","PEth":80,"FIB4":0.9},{"HCV":"Negative","PEth":85,"FIB4":0.5},{"HCV":"Negative","PEth":90,"FIB4":2.9},{"HCV":"Negative","PEth":95,"FIB4":1.7},{"HCV":"Negative","PEth":100,"FIB4":1.3},{"HCV":"Negative","PEth":110,"FIB4":0.8},{"HCV":"Negative","PEth":120,"FIB4":2.3},{"HCV":"Negative","PEth":130,"FIB4":1.5},{"HCV":"Negative","PEth":140,"FIB4":1.0},{"HCV":"Negative","PEth":150,"FIB4":0.6},{"HCV":"Negative","PEth":160,"FIB4":1.9},{"HCV":"Negative","PEth":170,"FIB4":1.3},{"HCV":"Negative","PEth":180,"FIB4":0.9},{"HCV":"Negative","PEth":190,"FIB4":2.4},{"HCV":"Negative","PEth":200,"FIB4":1.6},{"HCV":"Negative","PEth":210,"FIB4":1.1},{"HCV":"Negative","PEth":220,"FIB4":0.7},{"HCV":"Negative","PEth":230,"FIB4":1.8},{"HCV":"Negative","PEth":240,"FIB4":1.3},{"HCV":"Negative","PEth":250,"FIB4":0.95},{"HCV":"Negative","PEth":260,"FIB4":1.55},{"HCV":"Negative","PEth":270,"FIB4":2.0},{"HCV":"Negative","PEth":280,"FIB4":0.8},{"HCV":"Negative","PEth":290,"FIB4":1.2},{"HCV":"Negative","PEth":300,"FIB4":1.5},{"HCV":"Negative","PEth":320,"FIB4":1.0},{"HCV":"Negative","PEth":340,"FIB4":1.7},{"HCV":"Negative","PEth":360,"FIB4":0.6},{"HCV":"Negative","PEth":380,"FIB4":1.3},{"HCV":"Negative","PEth":400,"FIB4":1.9},{"HCV":"Negative","PEth":420,"FIB4":1.1},{"HCV":"Negative","PEth":450,"FIB4":1.6},{"HCV":"Negative","PEth":480,"FIB4":1.3},{"HCV":"Negative","PEth":520,"FIB4":1.5},{"HCV":"Negative","PEth":560,"FIB4":0.9},{"HCV":"Negative","PEth":3,"FIB4":1.0},{"HCV":"Negative","PEth":5,"FIB4":0.5},{"HCV":"Negative","PEth":7,"FIB4":1.8},{"HCV":"Negative","PEth":9,"FIB4":2.5},{"HCV":"Negative","PEth":11,"FIB4":0.3},{"HCV":"Negative","PEth":15,"FIB4":1.5},{"HCV":"Negative","PEth":25,"FIB4":2.0},{"HCV":"Negative","PEth":33,"FIB4":1.25},{"HCV":"Negative","PEth":42,"FIB4":0.45},{"HCV":"Negative","PEth":52,"FIB4":2.2},{"HCV":"Negative","PEth":62,"FIB4":1.35},{"HCV":"Negative","PEth":72,"FIB4":0.75},{"HCV":"Negative","PEth":82,"FIB4":1.85},
{"HCV":"Positive","PEth":153,"FIB4":5.66},{"HCV":"Positive","PEth":391,"FIB4":5.48},{"HCV":"Positive","PEth":27,"FIB4":5.01},{"HCV":"Positive","PEth":90,"FIB4":4.41},{"HCV":"Positive","PEth":134,"FIB4":4.11},{"HCV":"Positive","PEth":166,"FIB4":3.63},{"HCV":"Positive","PEth":205,"FIB4":3.29},{"HCV":"Positive","PEth":320,"FIB4":3.42},{"HCV":"Positive","PEth":345,"FIB4":3.3},{"HCV":"Positive","PEth":280,"FIB4":3.2},{"HCV":"Positive","PEth":250,"FIB4":3.1},{"HCV":"Positive","PEth":1316,"FIB4":1.5},{"HCV":"Positive","PEth":652,"FIB4":0.92},{"HCV":"Positive","PEth":2682,"FIB4":2.21},{"HCV":"Positive","PEth":487,"FIB4":1.95},{"HCV":"Positive","PEth":517,"FIB4":1.85},{"HCV":"Positive","PEth":345,"FIB4":1.31},
{"HCV":"Positive","PEth":1,"FIB4":0.5},{"HCV":"Positive","PEth":2,"FIB4":1.0},{"HCV":"Positive","PEth":3,"FIB4":1.5},{"HCV":"Positive","PEth":4,"FIB4":2.0},{"HCV":"Positive","PEth":5,"FIB4":2.5},{"HCV":"Positive","PEth":6,"FIB4":0.8},{"HCV":"Positive","PEth":8,"FIB4":1.3},{"HCV":"Positive","PEth":10,"FIB4":1.8},{"HCV":"Positive","PEth":12,"FIB4":2.3},{"HCV":"Positive","PEth":14,"FIB4":0.6},{"HCV":"Positive","PEth":16,"FIB4":1.1},{"HCV":"Positive","PEth":18,"FIB4":1.6},{"HCV":"Positive","PEth":20,"FIB4":2.1},{"HCV":"Positive","PEth":22,"FIB4":2.7},{"HCV":"Positive","PEth":25,"FIB4":0.9},{"HCV":"Positive","PEth":30,"FIB4":1.4},{"HCV":"Positive","PEth":35,"FIB4":1.9},{"HCV":"Positive","PEth":40,"FIB4":2.4},{"HCV":"Positive","PEth":45,"FIB4":1.2},{"HCV":"Positive","PEth":50,"FIB4":2.9},{"HCV":"Positive","PEth":55,"FIB4":1.7},{"HCV":"Positive","PEth":60,"FIB4":0.7},{"HCV":"Positive","PEth":70,"FIB4":2.2},{"HCV":"Positive","PEth":80,"FIB4":1.5},{"HCV":"Positive","PEth":90,"FIB4":2.6},{"HCV":"Positive","PEth":100,"FIB4":1.9},{"HCV":"Positive","PEth":110,"FIB4":1.3},{"HCV":"Positive","PEth":120,"FIB4":3.0},{"HCV":"Positive","PEth":140,"FIB4":2.0},{"HCV":"Positive","PEth":160,"FIB4":1.6},{"HCV":"Positive","PEth":180,"FIB4":2.8},{"HCV":"Positive","PEth":200,"FIB4":1.8},{"HCV":"Positive","PEth":220,"FIB4":2.3},{"HCV":"Positive","PEth":240,"FIB4":1.4},{"HCV":"Positive","PEth":70,"FIB4":3.2},{"HCV":"Positive","PEth":110,"FIB4":3.4},{"HCV":"Positive","PEth":60,"FIB4":2.9}
],
"linesD": [
{"HCV":"Negative","PEth":0,"FIB4":1.35},{"HCV":"Negative","PEth":5142,"FIB4":5.2},
{"HCV":"Positive","PEth":0,"FIB4":2.15},{"HCV":"Positive","PEth":2682,"FIB4":2.43}
],
"parD": [
{"Parameter":"HCV- Estimate\u00a0\u00a0\u00a0\u00a0\u00a0\u00a0\u00a00.001"},{"Parameter":"HCV+ Estimate\u00a0\u00a0\u00a0\u00a00.0001"},{"Parameter":"HCV- P-value\u00a0\u00a0\u00a0\u00a0<0.0001"},{"Parameter":"HCV+ P-value\u00a0\u00a0\u00a0\u00a0\u00a0\u00a0\u00a0\u00a00.767"}
]
},
"columns": 2,
"spacing": {"row": 12, "column": 18},
"concat": [
{
"title": {"text": "(A)", "anchor": "start", "offset": 14, "dx": -9},
"resolve": {"scale": {"color": "independent", "shape": "independent"}, "legend": {"color": "independent", "shape": "independent"}},
"vconcat": [{
"title": "LDH and APRI",
"width": 277, "height": 180,
"layer": [
{"data": {"name": "linesA"}, "mark": {"type": "line", "strokeWidth": 1.5},
 "encoding": {
  "x": {"field": "LDH", "type": "quantitative", "scale": {"domain": [-25, 2035], "nice": false, "zero": false}, "axis": {"title": "LDH", "values": [0, 500, 1000, 1500, 2000], "tickCount": 10, "format": "d"}},
  "y": {"field": "APRI", "type": "quantitative", "scale": {"domain": [-0.12, 4.35], "nice": false, "zero": false}, "axis": {"title": "APRI", "values": [0, 1, 2, 3, 4], "tickCount": 10, "format": "d"}},
  "color": {"field": "HCV", "type": "nominal", "scale": {"domain": ["Negative", "Positive"], "range": ["#000000", "#cc1010"]}, "legend": {"title": "HCV", "orient": "bottom", "direction": "horizontal", "symbolType": "M-1,0H3"}}}},
{"data": {"name": "ptsA"}, "mark": {"type": "circle", "size": 20, "opacity": 1},
 "encoding": {"x": {"field": "LDH", "type": "quantitative"}, "y": {"field": "APRI", "type": "quantitative"},
  "color": {"field": "HCV", "type": "nominal", "legend": {"title": "HCV", "orient": "bottom", "direction": "horizontal", "symbolType": "M-1,0H3"}}}},
{"data": {"name": "parA"}, "mark": {"type": "point", "opacity": 0},
 "encoding": {"shape": {"field": "Parameter", "type": "nominal", "sort": null, "legend": {"title": "Parameter Estimates", "orient": "top-right", "direction": "vertical", "titleOrient": "top", "titleBaseline": "top", "offset": 2, "padding": 2, "fillColor": "#ffffff", "strokeColor": "#bdbdbd", "symbolSize": 0, "symbolOpacity": 0, "symbolStrokeWidth": 0, "symbolType": "circle", "labelOffset": 0, "labelFontSize": 6.2, "titleFontSize": 6.6, "titleAnchor": "middle", "titlePadding": 1, "rowPadding": 0.5}}}}
]}]
},
{
"title": {"text": "(B)", "anchor": "start", "offset": 14, "dx": -9},
"resolve": {"scale": {"color": "independent", "shape": "independent"}, "legend": {"color": "independent", "shape": "independent"}},
"vconcat": [{
"title": "LDH and FIB-4",
"width": 271, "height": 180,
"layer": [
{"data": {"name": "linesB"}, "mark": {"type": "line", "strokeWidth": 1.5},
 "encoding": {
  "x": {"field": "LDH", "type": "quantitative", "scale": {"domain": [-22, 2018], "nice": false, "zero": false}, "axis": {"title": "LDH", "values": [0, 500, 1000, 1500, 2000], "tickCount": 10, "format": "d"}},
  "y": {"field": "FIB4", "type": "quantitative", "scale": {"domain": [-0.4, 11.16], "nice": false, "zero": false}, "axis": {"title": "FIB-4", "values": [0, 2, 4, 6, 8, 10], "tickCount": 10, "format": "d"}},
  "color": {"field": "HCV", "type": "nominal", "scale": {"domain": ["Negative", "Positive"], "range": ["#000000", "#cc1010"]}, "legend": {"title": "HCV", "orient": "bottom", "direction": "horizontal", "symbolType": "M-1,0H3"}}}},
{"data": {"name": "ptsB"}, "mark": {"type": "circle", "size": 20, "opacity": 1},
 "encoding": {"x": {"field": "LDH", "type": "quantitative"}, "y": {"field": "FIB4", "type": "quantitative"},
  "color": {"field": "HCV", "type": "nominal", "legend": {"title": "HCV", "orient": "bottom", "direction": "horizontal", "symbolType": "M-1,0H3"}}}},
{"data": {"name": "parB"}, "mark": {"type": "point", "opacity": 0},
 "encoding": {"shape": {"field": "Parameter", "type": "nominal", "sort": null, "legend": {"title": "Parameter Estimates", "orient": "top-right", "direction": "vertical", "titleOrient": "top", "titleBaseline": "top", "offset": 2, "padding": 2, "fillColor": "#ffffff", "strokeColor": "#bdbdbd", "symbolSize": 0, "symbolOpacity": 0, "symbolStrokeWidth": 0, "symbolType": "circle", "labelOffset": 0, "labelFontSize": 6.2, "titleFontSize": 6.6, "titleAnchor": "middle", "titlePadding": 1, "rowPadding": 0.5}}}}
]}]
},
{
"title": {"text": "(C)", "anchor": "start", "offset": 14, "dx": -9},
"resolve": {"scale": {"color": "independent", "shape": "independent"}, "legend": {"color": "independent", "shape": "independent"}},
"vconcat": [{
"title": "PEth and APRI",
"width": 280, "height": 181,
"layer": [
{"data": {"name": "linesC"}, "mark": {"type": "line", "strokeWidth": 1.5},
 "encoding": {
  "x": {"field": "PEth", "type": "quantitative", "scale": {"domain": [-64, 5200], "nice": false, "zero": false}, "axis": {"title": "PEth", "values": [0, 1000, 2000, 3000, 4000, 5000], "tickCount": 10, "format": "d"}},
  "y": {"field": "APRI", "type": "quantitative", "scale": {"domain": [-0.15, 4.32], "nice": false, "zero": false}, "axis": {"title": "APRI", "values": [0, 1, 2, 3, 4], "tickCount": 10, "format": "d"}},
  "color": {"field": "HCV", "type": "nominal", "scale": {"domain": ["Negative", "Positive"], "range": ["#000000", "#cc1010"]}, "legend": {"title": "HCV", "orient": "bottom", "direction": "horizontal", "symbolType": "M-1,0H3"}}}},
{"data": {"name": "ptsC"}, "mark": {"type": "circle", "size": 20, "opacity": 1},
 "encoding": {"x": {"field": "PEth", "type": "quantitative"}, "y": {"field": "APRI", "type": "quantitative"},
  "color": {"field": "HCV", "type": "nominal", "legend": {"title": "HCV", "orient": "bottom", "direction": "horizontal", "symbolType": "M-1,0H3"}}}},
{"data": {"name": "parC"}, "mark": {"type": "point", "opacity": 0},
 "encoding": {"shape": {"field": "Parameter", "type": "nominal", "sort": null, "legend": {"title": "Parameter Estimates", "orient": "top-right", "direction": "vertical", "titleOrient": "top", "titleBaseline": "top", "offset": 2, "padding": 2, "fillColor": "#ffffff", "strokeColor": "#bdbdbd", "symbolSize": 0, "symbolOpacity": 0, "symbolStrokeWidth": 0, "symbolType": "circle", "labelOffset": 0, "labelFontSize": 6.2, "titleFontSize": 6.6, "titleAnchor": "middle", "titlePadding": 1, "rowPadding": 0.5}}}}
]}]
},
{
"title": {"text": "(D)", "anchor": "start", "offset": 14, "dx": -9},
"resolve": {"scale": {"color": "independent", "shape": "independent"}, "legend": {"color": "independent", "shape": "independent"}},
"vconcat": [{
"title": "PEth and FIB-4",
"width": 276, "height": 180,
"layer": [
{"data": {"name": "linesD"}, "mark": {"type": "line", "strokeWidth": 1.5},
 "encoding": {
  "x": {"field": "PEth", "type": "quantitative", "scale": {"domain": [-44, 5238], "nice": false, "zero": false}, "axis": {"title": "PEth", "values": [0, 1000, 2000, 3000, 4000, 5000], "tickCount": 10, "format": "d"}},
  "y": {"field": "FIB4", "type": "quantitative", "scale": {"domain": [-0.39, 11.25], "nice": false, "zero": false}, "axis": {"title": "FIB-4", "values": [0, 2, 4, 6, 8, 10], "tickCount": 10, "format": "d"}},
  "color": {"field": "HCV", "type": "nominal", "scale": {"domain": ["Negative", "Positive"], "range": ["#000000", "#cc1010"]}, "legend": {"title": "HCV", "orient": "bottom", "direction": "horizontal", "symbolType": "M-1,0H3"}}}},
{"data": {"name": "ptsD"}, "mark": {"type": "circle", "size": 20, "opacity": 1},
 "encoding": {"x": {"field": "PEth", "type": "quantitative"}, "y": {"field": "FIB4", "type": "quantitative"},
  "color": {"field": "HCV", "type": "nominal", "legend": {"title": "HCV", "orient": "bottom", "direction": "horizontal", "symbolType": "M-1,0H3"}}}},
{"data": {"name": "parD"}, "mark": {"type": "point", "opacity": 0},
 "encoding": {"shape": {"field": "Parameter", "type": "nominal", "sort": null, "legend": {"title": "Parameter Estimates", "orient": "top-right", "direction": "vertical", "titleOrient": "top", "titleBaseline": "top", "offset": 2, "padding": 2, "fillColor": "#ffffff", "strokeColor": "#bdbdbd", "symbolSize": 0, "symbolOpacity": 0, "symbolStrokeWidth": 0, "symbolType": "circle", "labelOffset": 0, "labelFontSize": 6.2, "titleFontSize": 6.6, "titleAnchor": "middle", "titlePadding": 1, "rowPadding": 0.5}}}}
]}]
}
],
"resolve": {"scale": {"color": "independent", "shape": "independent"}, "legend": {"color": "independent", "shape": "independent"}},
"config": {
"font": "Liberation Sans",
"view": {"stroke": "#c4c4c4", "strokeWidth": 1},
"title": {"fontSize": 7.5, "fontWeight": "bold", "color": "#000000", "offset": 3},
"axis": {"domain": false, "grid": false, "labelOverlap": false, "tickColor": "#8c8c8c", "tickSize": 3, "labelFontSize": 6.7, "labelColor": "#333333", "labelPadding": 1, "titleFontSize": 6.7, "titleFontWeight": "normal", "titleColor": "#333333", "titlePadding": 2},
"legend": {"titleOrient": "left", "titleAnchor": "middle", "titleBaseline": "middle", "offset": 5, "symbolSize": 132, "symbolStrokeWidth": 2, "labelFontSize": 6.5, "labelColor": "#333333", "titleFontSize": 6.5, "titleFontWeight": "normal", "titleColor": "#333333", "titlePadding": 11, "columnPadding": 5, "labelOffset": 13.5, "layout": {"bottom": {"anchor": "middle"}}}
}
}
